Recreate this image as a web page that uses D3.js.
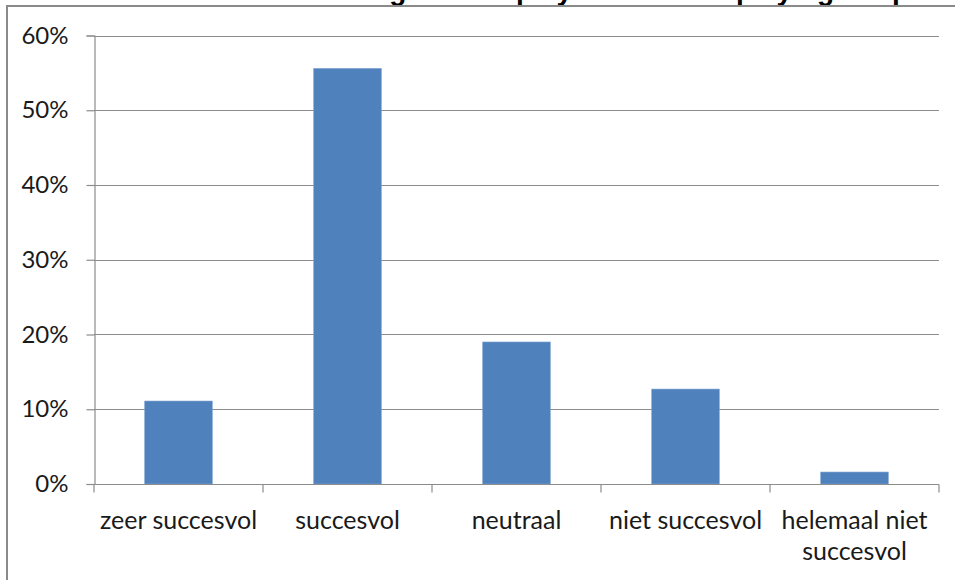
<!DOCTYPE html>
<html>
<head>
<meta charset="utf-8">
<script src="https://cdn.jsdelivr.net/npm/d3@7/dist/d3.min.js"></script>
<style>
  html, body { margin: 0; padding: 0; background: #fff; }
  svg { display: block; }
  text { font-family: Lato, "Open Sans", sans-serif; fill: #1a1a1a; }
</style>
</head>
<body>
<svg id="chart" width="955" height="580"></svg>
<script>
// Answer categories and share of respondents per category
const categories = ["zeer succesvol", "succesvol", "neutraal", "niet succesvol", "helemaal niet succesvol"];
const shares = [0.111, 0.556, 0.190, 0.127, 0.016];
const yTicks = [0, 0.1, 0.2, 0.3, 0.4, 0.5, 0.6];
const titleWords = ["Beoordeling", "van het", "players", "en de", "playing", "de", "periode"];

const svg = d3.select("#chart");
const W = 955, H = 580;
const plot = { left: 94, right: 939, top: 35.5, bottom: 484 };

// Title (sits mostly above the frame)
const titleX = [243, 412, 516, 626, 736, 842, 892];
const title = svg.append("text")
  .attr("y", 0)
  .style("font-family", "'Liberation Sans', Arial, sans-serif")
  .style("font-weight", "bold")
  .style("font-size", "28px")
  .style("fill", "#000");
titleWords.forEach((w, i) => title.append("tspan").attr("x", titleX[i]).text(w));

// Chart frame
svg.append("path")
  .attr("d", `M7,${H} V6 H${W}`)
  .attr("fill", "none")
  .attr("stroke", "#8a8a8a")
  .attr("stroke-width", 2);

const x = d3.scaleBand()
  .domain(categories)
  .range([plot.left, plot.right])
  .paddingInner(0.6)
  .paddingOuter(0.3);

const xOuter = d3.scaleBand()
  .domain(categories)
  .range([plot.left, plot.right]);

const y = d3.scaleLinear()
  .domain([0, 0.6])
  .range([plot.bottom, plot.top]);

// Horizontal gridlines
svg.append("g")
  .selectAll("line")
  .data(yTicks.filter(t => t > 0))
  .join("line")
  .attr("x1", plot.left)
  .attr("x2", plot.right)
  .attr("y1", d => Math.round(y(d)) + 0.5)
  .attr("y2", d => Math.round(y(d)) + 0.5)
  .attr("stroke", "#8c8c8c")
  .attr("stroke-width", 1.2);

// Bars
svg.append("g")
  .selectAll("rect")
  .data(categories)
  .join("rect")
  .attr("x", d => x(d))
  .attr("width", x.bandwidth())
  .attr("y", (d, i) => y(shares[i]))
  .attr("height", (d, i) => plot.bottom - y(shares[i]))
  .attr("fill", "#4f81bd")
  .attr("stroke", "#7fa3cf")
  .attr("stroke-width", 0.6);

// Y axis
const yAxis = svg.append("g")
  .attr("transform", `translate(${plot.left + 0.5},0)`)
  .call(d3.axisLeft(y).tickValues(yTicks).tickFormat(d3.format(".0%")).tickSize(8).tickPadding(18));
yAxis.select(".domain").attr("stroke", "#8c8c8c").attr("stroke-width", 1.2);
yAxis.selectAll(".tick line").attr("stroke", "#8c8c8c").attr("stroke-width", 1.2);
yAxis.selectAll(".tick text")
  .style("font-family", "Lato, sans-serif")
  .style("font-size", "24px")
  .attr("fill", "#1a1a1a");

// X axis with tick marks at category boundaries
const xAxis = svg.append("g")
  .attr("transform", `translate(0,${plot.bottom + 0.5})`);
xAxis.append("line")
  .attr("x1", plot.left).attr("x2", plot.right)
  .attr("stroke", "#8c8c8c").attr("stroke-width", 1.2);
const bounds = categories.map(c => xOuter(c)).concat([plot.right]);
xAxis.selectAll("line.tick")
  .data(bounds)
  .join("line")
  .attr("class", "tick")
  .attr("x1", d => d).attr("x2", d => d)
  .attr("y1", 0).attr("y2", 8)
  .attr("stroke", "#8c8c8c").attr("stroke-width", 1.2);

// Category labels (wrapped when wider than the band)
const labelLines = {
  "helemaal niet succesvol": ["helemaal niet", "succesvol"]
};
svg.append("g")
  .selectAll("text")
  .data(categories)
  .join("text")
  .attr("text-anchor", "middle")
  .style("font-size", "25px")
  .each(function (d) {
    const lines = labelLines[d] || [d];
    const cx = xOuter(d) + xOuter.bandwidth() / 2;
    d3.select(this).selectAll("tspan")
      .data(lines)
      .join("tspan")
      .attr("x", cx)
      .attr("y", (l, i) => 529 + i * 31)
      .text(l => l);
  });
</script>
</body>
</html>
